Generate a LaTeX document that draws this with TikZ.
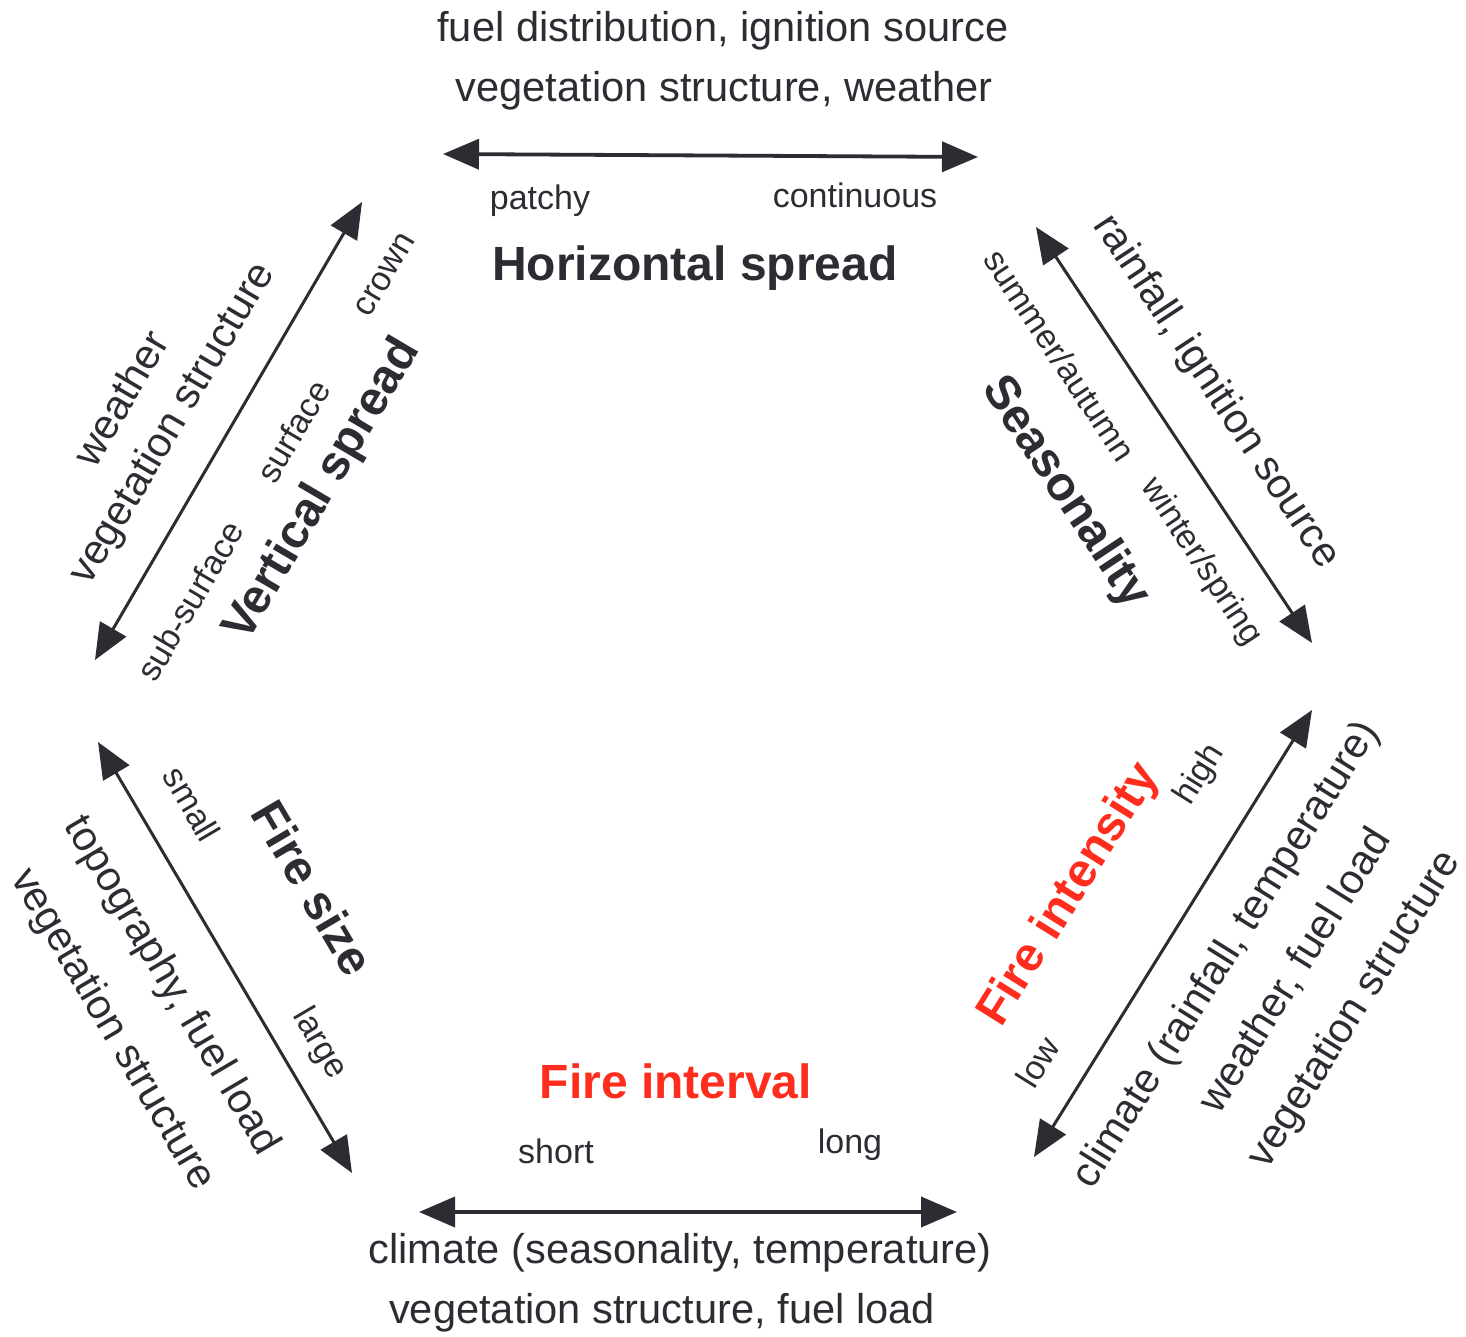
\documentclass[tikz,border=0pt]{standalone}
\usepackage{fontspec}
\setmainfont{Liberation Sans}
\usetikzlibrary{arrows.meta}
\definecolor{ink}{RGB}{43,45,51}
\definecolor{fire}{RGB}{255,45,30}
\begin{document}
\begin{tikzpicture}[x=1pt,y=-1pt,
  lbl/.style={font=\fontsize{41.6}{49}\selectfont, text=ink, inner sep=0pt},
  sml/.style={font=\fontsize{34}{40}\selectfont, text=ink, inner sep=0pt},
  ttl/.style={font=\fontsize{48}{56}\selectfont\bfseries, text=ink, inner sep=0pt},
  redttl/.style={ttl, text=fire},
  dbl/.style={draw=ink, line width=3pt,
    {Triangle[length=36pt,width=30pt]}-{Triangle[length=36pt,width=30pt]}},
  hdbl/.style={dbl, line width=3.8pt}
]
\useasboundingbox (0,0) rectangle (1466,1337);

% arrow end points
\coordinate (hL) at (443,154);
\coordinate (hR) at (978,157);
\coordinate (vT) at (362,202);
\coordinate (vB) at (95,660);
\coordinate (sT) at (1036,227);
\coordinate (sB) at (1312,643);
\coordinate (iT) at (1312,710);
\coordinate (iB) at (1034,1157);
\coordinate (fL) at (419,1212);
\coordinate (fR) at (957,1212);
\coordinate (zT) at (98,742);
\coordinate (zB) at (352,1173);

\draw[hdbl] (hL) -- (hR);
\draw[dbl] (vT) -- (vB);
\draw[dbl] (sT) -- (sB);
\draw[dbl] (iT) -- (iB);
\draw[hdbl] (fL) -- (fR);
\draw[dbl] (zT) -- (zB);

% Horizontal spread
\node[lbl] (h1) at (723,31) {fuel distribution, ignition source};
\node[lbl] (h2) at (724,91) {vegetation structure, weather};
\node[sml] (h3) at (540,201) {patchy};
\node[sml] (h4) at (855,195) {continuous};
\node[ttl] (h5) at (695,268) {Horizontal spread};

% Vertical spread
\node[lbl, rotate=59.5] (v1) at (120,398) {weather};
\node[lbl, rotate=59.5] (v2) at (173,424) {vegetation structure};
\node[sml, rotate=59.5] (v3) at (385,275) {crown};
\node[sml, rotate=59.5] (v4) at (293,431) {surface};
\node[sml, rotate=59.5] (v5) at (190,601) {sub-surface};
\node[ttl, rotate=59.5] (v6) at (323,490) {Vertical spread};

% Seasonality
\node[lbl, rotate=-56.5] (s1) at (1216,392) {rainfall, ignition source};
\node[sml, rotate=-56.5] (s2) at (1060,355) {summer/autumn};
\node[sml, rotate=-56.5] (s3) at (1201,562) {winter/spring};
\node[ttl, rotate=-56.5] (s4) at (1065,493) {Seasonality};

% Fire intensity
\node[redttl, rotate=58] (i1) at (1070,895) {Fire intensity};
\node[sml, rotate=58] (i2) at (1200,775) {high};
\node[sml, rotate=58] (i3) at (1038,1062) {low};
\node[lbl, rotate=58] (i4) at (1227,955) {climate (rainfall, temperature)};
\node[lbl, rotate=58] (i5) at (1295,971) {weather, fuel load};
\node[lbl, rotate=58] (i6) at (1355,1010) {vegetation structure};

% Fire interval
\node[redttl] (f1) at (676,1081) {Fire interval};
\node[sml] (f2) at (556,1151) {short};
\node[sml] (f3) at (850,1145) {long};
\node[lbl] (f4) at (680,1253) {climate (seasonality, temperature)};
\node[lbl] (f5) at (662,1313) {vegetation structure, fuel load};

% Fire size
\node[sml, rotate=-59.5] (z1) at (192,804) {small};
\node[ttl, rotate=-59.5] (z2) at (313,888) {Fire size};
\node[sml, rotate=-59.5] (z3) at (319,1044) {large};
\node[lbl, rotate=-59.5] (z4) at (171,986) {topography, fuel load};
\node[lbl, rotate=-59.5] (z5) at (112,1030) {vegetation structure};
\end{tikzpicture}
\end{document}
